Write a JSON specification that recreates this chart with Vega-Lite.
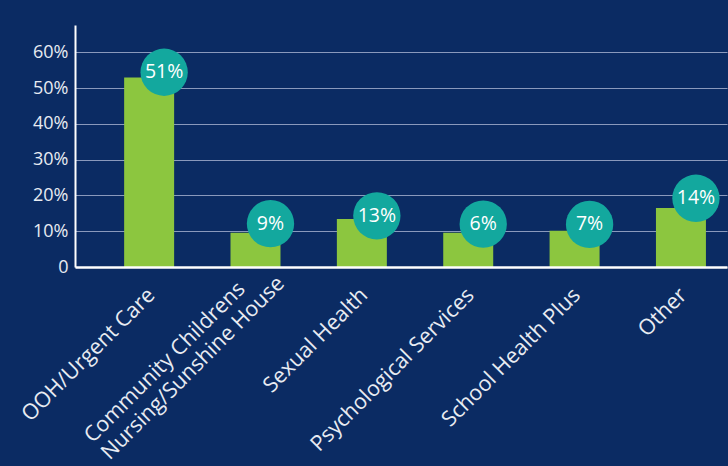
{
  "$schema": "https://vega.github.io/schema/vega-lite/v6.json",
  "width": 652,
  "height": 242,
  "autosize": {"type": "none"},
  "padding": {"left": 75, "top": 25, "right": 1, "bottom": 199},
  "background": "#0b2b63",
  "config": {"view": {"stroke": null}, "font": "Open Sans"},
  "data": {
    "values": [
      {"service": "OOH/Urgent Care", "value": 52.9, "labelPos": 54.4, "label": "51%"},
      {"service": "Community Childrens Nursing/Sunshine House", "value": 9.6, "labelPos": 12.1, "label": "9%"},
      {"service": "Sexual Health", "value": 13.4, "labelPos": 14.3, "label": "13%"},
      {"service": "Psychological Services", "value": 9.6, "labelPos": 12.0, "label": "6%"},
      {"service": "School Health Plus", "value": 10.1, "labelPos": 11.9, "label": "7%"},
      {"service": "Other", "value": 16.5, "labelPos": 19.2, "label": "14%"}
    ]
  },
  "encoding": {
    "x": {
      "field": "service",
      "type": "nominal",
      "sort": null,
      "scale": {"paddingInner": 0.53, "paddingOuter": 0.33, "align": 0.7},
      "axis": {
        "title": null,
        "labelAngle": -45,
        "labelColor": "#e8ebf2",
        "labelFontSize": 21.5,
        "labelLineHeight": 24,
        "labelLimit": 500,
        "labelAlign": {"condition": {"test": "datum.value == 'Community Childrens Nursing/Sunshine House'", "value": "left"}, "value": "right"},
        "labelBaseline": {"condition": {"test": "datum.value == 'Community Childrens Nursing/Sunshine House'", "value": "middle"}, "value": "top"},
        "labelPadding": {"condition": {"test": "datum.value == 'Community Childrens Nursing/Sunshine House'", "value": 172}, "value": 17},
        "labelOffset": {"condition": {"test": "datum.value == 'Community Childrens Nursing/Sunshine House'", "value": -167}, "value": -5},
        "labelExpr": "datum.value == 'Community Childrens Nursing/Sunshine House' ? ['Community Childrens', 'Nursing/Sunshine House'] : datum.value",
        "domainColor": "#ffffff",
        "domainWidth": 2.5,
        "ticks": false,
        "zindex": 1
      }
    }
  },
  "layer": [
    {
      "mark": {"type": "bar", "color": "#8cc63f"},
      "encoding": {
        "y": {
          "field": "value",
          "type": "quantitative",
          "scale": {"domain": [0, 67.6], "nice": false},
          "axis": {
            "title": null,
            "values": [0, 10, 20, 30, 40, 50, 60],
            "labelExpr": "datum.value == 0 ? '0' : datum.value + '%'",
            "labelColor": "#e8ebf2",
            "labelFontSize": 18,
            "labelPadding": 7,
            "grid": true,
            "gridColor": "#8a99bc",
            "gridWidth": 1,
            "domainColor": "#ffffff",
            "domainWidth": 2,
            "ticks": false
          }
        }
      }
    },
    {
      "mark": {"type": "point", "filled": true, "size": 2240, "color": "#13a89e", "opacity": 1, "xOffset": 15},
      "encoding": {
        "y": {"field": "labelPos", "type": "quantitative"}
      }
    },
    {
      "mark": {"type": "text", "color": "#ffffff", "fontSize": 19.5, "xOffset": 15, "baseline": "middle"},
      "encoding": {
        "y": {"field": "labelPos", "type": "quantitative"},
        "text": {"field": "label"}
      }
    }
  ]
}
